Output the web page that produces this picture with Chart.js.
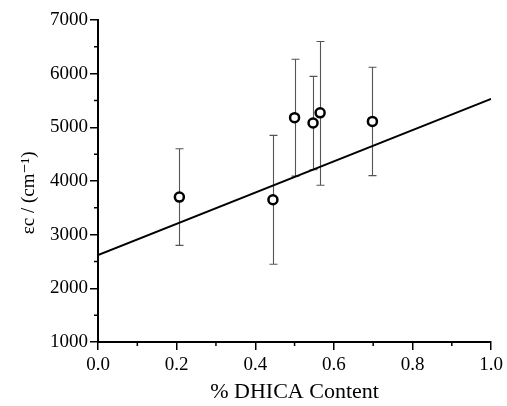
<!DOCTYPE html>
<html>
<head>
<meta charset="UTF-8">
<title>DHICA</title>
<style>
    body { margin: 0; background: #fff; }
    #wrap { width: 507px; height: 406px; }
</style>
<script src="https://cdn.jsdelivr.net/npm/chart.js"></script>
</head>
<body>
<div id="wrap"><canvas id="chart" width="507" height="406"></canvas></div>
<script>
    // data
    const dhica = [0.207, 0.445, 0.500, 0.547, 0.565, 0.698];
    const epsC = [3700, 3650, 5180, 5080, 5270, 5110];
    const errLow = [2800, 2450, 4090, 4210, 3920, 4100];
    const errHigh = [4600, 4850, 6270, 5950, 6600, 6120];
    const fitX = [0.0, 1.0];
    const fitY = [2620, 5530];

    const serif = '"Liberation Serif", "DejaVu Serif", serif';

    // error bars + minor ticks, drawn through the scales
    const extras = {
        id: 'extras',
        beforeDatasetsDraw(chart) {
            const ctx = chart.ctx, xs = chart.scales.x, ys = chart.scales.y;
            ctx.save();
            ctx.strokeStyle = '#555';
            ctx.lineWidth = 1.1;
            dhica.forEach((v, i) => {
                const px = Math.round(xs.getPixelForValue(v)) + 0.5;
                const lo = ys.getPixelForValue(errLow[i]);
                const hi = ys.getPixelForValue(errHigh[i]);
                ctx.beginPath();
                ctx.moveTo(px, lo); ctx.lineTo(px, hi);
                ctx.moveTo(px - 4, lo); ctx.lineTo(px + 4, lo);
                ctx.moveTo(px - 4, hi); ctx.lineTo(px + 4, hi);
                ctx.stroke();
            });
            ctx.restore();
        },
        afterDraw(chart) {
            const ctx = chart.ctx, xs = chart.scales.x, ys = chart.scales.y;
            const area = chart.chartArea;
            ctx.save();
            ctx.strokeStyle = '#000';
            ctx.lineWidth = 1.5;
            ctx.beginPath();
            for (let v = 0.1; v < 1; v += 0.2) {
                const px = xs.getPixelForValue(v);
                ctx.moveTo(px, area.bottom); ctx.lineTo(px, area.bottom + 4);
            }
            for (let v = 1500; v < 7000; v += 1000) {
                const py = ys.getPixelForValue(v);
                ctx.moveTo(area.left, py); ctx.lineTo(area.left - 4, py);
            }
            ctx.stroke();
            ctx.restore();
        }
    };

    new Chart(document.getElementById('chart'), {
        type: 'scatter',
        data: {
            datasets: [{
                type: 'line',
                data: fitX.map((x, i) => ({ x: x, y: fitY[i] })),
                borderColor: '#000',
                borderWidth: 2,
                pointRadius: 0,
                fill: false
            }, {
                data: dhica.map((x, i) => ({ x: x, y: epsC[i] })),
                pointStyle: 'circle',
                pointRadius: 4.5,
                borderWidth: 2.5,
                borderColor: '#000',
                backgroundColor: '#fff'
            }]
        },
        plugins: [extras],
        options: {
            responsive: false,
            animation: false,
            layout: { padding: { left: 0, right: 11, top: 20, bottom: 0 } },
            plugins: { legend: { display: false }, tooltip: { enabled: false } },
            scales: {
                x: {
                    type: 'linear',
                    min: 0, max: 1,
                    afterFit(s) { s.height = 64; },
                    border: { display: true, color: '#000', width: 2 },
                    grid: { drawOnChartArea: false, color: '#000', tickLength: 8, lineWidth: 1.5 },
                    ticks: {
                        stepSize: 0.2, color: '#000', padding: 4,
                        font: { family: serif, size: 19 },
                        callback: v => v.toFixed(1)
                    },
                    title: {
                        display: true, text: '% DHICA Content', color: '#000',
                        font: { family: serif, size: 22 }, padding: { top: 4, bottom: 1 }
                    }
                },
                y: {
                    min: 1000, max: 7000,
                    afterFit(s) { s.width = 98; },
                    border: { display: true, color: '#000', width: 2 },
                    grid: { drawOnChartArea: false, color: '#000', tickLength: 8, lineWidth: 1.5 },
                    ticks: {
                        stepSize: 1000, color: '#000', padding: 2,
                        font: { family: serif, size: 19 },
                        callback: v => String(v)
                    },
                    title: {
                        display: true, text: 'εc / (cm⁻¹)     ', color: '#000',
                        font: { family: serif, size: 19 }, padding: { top: 18, bottom: 4 }
                    }
                }
            }
        }
    });
</script>
</body>
</html>
